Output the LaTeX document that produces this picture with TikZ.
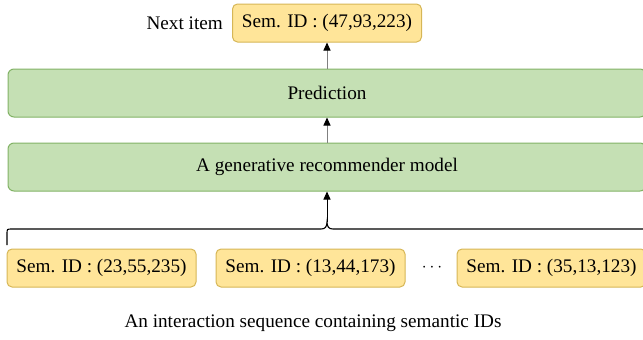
\documentclass[tikz,border=0pt]{standalone}
\usepackage{fontspec}
\setmainfont{Liberation Serif}
\usetikzlibrary{positioning,arrows.meta}

\definecolor{modelgreen}{HTML}{C5E0B4}
\definecolor{modelline}{HTML}{82B366}
\definecolor{idyellow}{HTML}{FFE599}
\definecolor{idline}{HTML}{D6B656}
\definecolor{arrowgray}{HTML}{808080}

\tikzset{
  idbox/.style={draw=idline, fill=idyellow, rounded corners=5pt, line width=1pt,
    minimum width=189pt, minimum height=38pt, inner sep=0pt},
  modelbox/.style={draw=modelline, fill=modelgreen, rounded corners=6pt, line width=1pt,
    minimum width=638pt, minimum height=48pt, inner sep=0pt},
  flow/.style={-{Triangle[length=8pt,width=7pt,color=black]}, line width=1pt}
}

\begin{document}
\begin{tikzpicture}[x=1pt,y=-1pt,font=\fontsize{19.2}{23}\selectfont]
    \useasboundingbox (0,0) rectangle (643,340);
    \node[idbox] (next) at (327,23) {Sem. ID : (47,93,223)};
    \node[left=9pt of next, inner sep=0pt] (nextlabel) {Next item};
    \node[modelbox] (pred) at (327,93) {Prediction};
    \node[modelbox] (model) at (327,167) {A generative recommender model};
    %Sequenz
    \foreach \x/\ids/\name in {101.5/{(23,55,235)}/seqa,310.5/{(13,44,173)}/seqb,551.5/{(35,13,123)}/seqc}
      \node[idbox] (\name) at (\x,268) {Sem. ID : \ids};
    \node[font=\fontsize{16}{18}\selectfont] (dots) at (432,268) {$\cdots$};
    \node (caption) at (313,323) {An interaction sequence containing semantic IDs};
    %Klammer
    \coordinate (tip) at (327,222);
    \draw[line width=1.1pt] (7,245) -- (7,234) .. controls (7,229) .. (12,229) -- (321,229)
      .. controls (325,229) and (327,227) .. (tip)
      .. controls (327,227) and (329,229) .. (333,229) -- (642,229)
      .. controls (647,229) .. (647,234) -- (647,245);
    %Pfeile
    \draw[flow, draw=arrowgray] (pred.north) -- (next.south);
    \draw[flow, draw=arrowgray] (model.north) -- (pred.south);
    \draw[flow] (tip) -- (model.south);
\end{tikzpicture}
\end{document}
